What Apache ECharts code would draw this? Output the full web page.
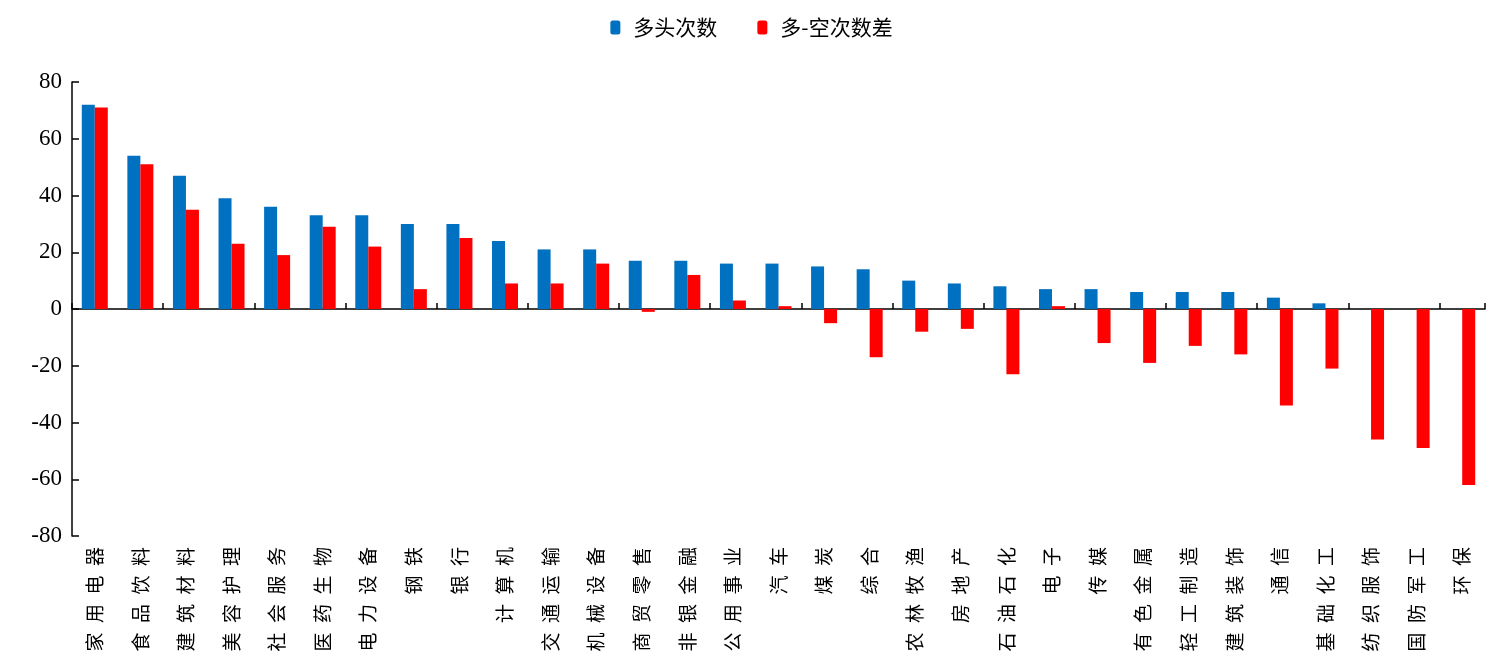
<!DOCTYPE html>
<html>
<head>
<meta charset="utf-8">
<script src="https://cdn.jsdelivr.net/npm/echarts@6/dist/echarts.min.js"></script>
<style>html,body{margin:0;padding:0;background:#fff;}#c{width:1503px;height:669px;}</style>
</head>
<body>
<div id="c"></div>
<script>
const categories = ['家用电器','食品饮料','建筑材料','美容护理','社会服务','医药生物','电力设备','钢铁','银行','计算机','交通运输','机械设备','商贸零售','非银金融','公用事业','汽车','煤炭','综合','农林牧渔','房地产','石油石化','电子','传媒','有色金属','轻工制造','建筑装饰','通信','基础化工','纺织服饰','国防军工','环保'];
const longCount = [72,54,47,39,36,33,33,30,30,24,21,21,17,17,16,16,15,14,10,9,8,7,7,6,6,6,4,2,0,0,0];
const longShortDiff = [71,51,35,23,19,29,22,7,25,9,9,16,-1,12,3,1,-5,-17,-8,-7,-23,1,-12,-19,-13,-16,-34,-21,-46,-49,-62];
const yTicks = {min:-80, max:80, interval:20};

const chart = echarts.init(document.getElementById('c'));
chart.setOption({
  animation:false,
  backgroundColor:'#fff',
  legend:{
    top:12, left:'center', itemWidth:10, itemHeight:14, itemGap:40,
    textStyle:{fontFamily:'Noto Sans CJK SC', fontSize:21, color:'#000', padding:[0,0,0,8]},
    data:['多头次数','多-空次数差']
  },
  grid:{left:72, right:18, top:82, bottom:133, containLabel:false},
  xAxis:[{
    type:'category', data:categories,
    axisLine:{onZero:true, lineStyle:{color:'#000', width:1.5}},
    axisTick:{show:true, inside:true, length:6, lineStyle:{color:'#000', width:1.5}},
    axisLabel:{show:false}
  },{
    type:'category', data:categories, position:'bottom',
    axisLine:{show:false, onZero:false}, axisTick:{show:false},
    axisLabel:{show:true, interval:0, rotate:90, margin:11,
      fontFamily:'Noto Sans CJK SC', fontSize:19, color:'#000',
      formatter:v=>v.split('').join('\u2002')}
  }],
  yAxis:{
    type:'value', min:yTicks.min, max:yTicks.max, interval:yTicks.interval,
    axisLine:{show:true, lineStyle:{color:'#000', width:1.5}},
    axisTick:{show:true, inside:true, length:7, lineStyle:{color:'#000', width:1.5}},
    splitLine:{show:false},
    axisLabel:{fontFamily:'Liberation Serif', fontSize:23, color:'#000', margin:10}
  },
  series:[{
    name:'多头次数', type:'bar', data:longCount, barWidth:13, barGap:'0%',
    xAxisIndex:0, itemStyle:{color:'#0070C0'}
  },{
    name:'多-空次数差', type:'bar', data:longShortDiff, barWidth:13, barGap:'0%',
    xAxisIndex:0, itemStyle:{color:'#FF0000'}
  }]
});
</script>
</body>
</html>
